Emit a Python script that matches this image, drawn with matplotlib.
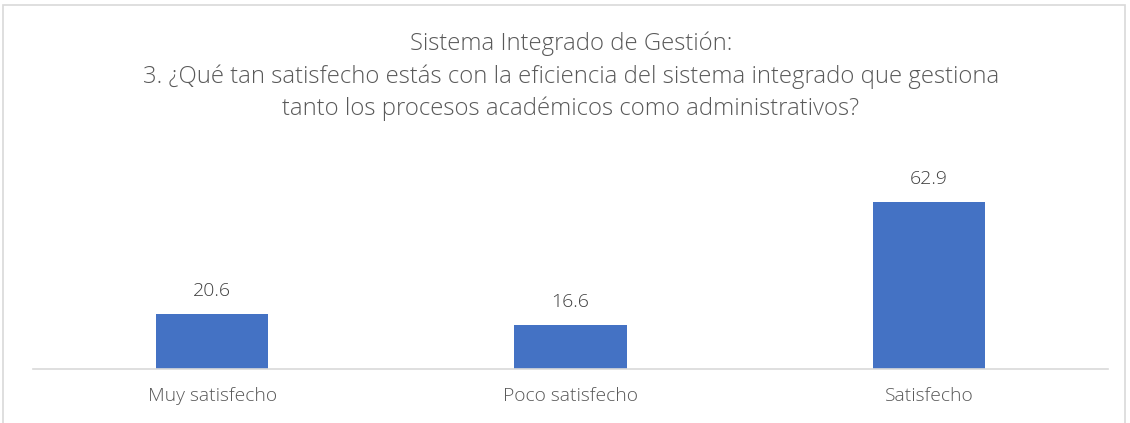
import matplotlib.pyplot as plt
from matplotlib.patches import Rectangle

categories = ["Muy satisfecho", "Poco satisfecho", "Satisfecho"]
values = [20.6, 16.6, 62.9]
value_labels = ["20.6", "16.6", "62.9"]
title_lines = [
    "Sistema Integrado de Gestión:",
    "3. ¿Qué tan satisfecho estás con la eficiencia del sistema integrado que gestiona",
    "tanto los procesos académicos como administrativos?",
]

W, H = 1130, 423
fig = plt.figure(figsize=(W / 100, H / 100), dpi=100)
plt.rcParams['font.family'] = ['Open Sans', 'DejaVu Sans']

# light chart border
fig.patches.append(Rectangle((3 / W, -0.05), (1125 - 3) / W, (H - 5) / H + 0.05,
                             transform=fig.transFigure, fill=False,
                             edgecolor="#d9d9d9", linewidth=1.2))

# axes: x 33..1108 px, baseline at y=369, 0..70 spans 2.64 px/unit
ax_left, ax_right = 33, 1108
base_y = 369
ymax = 70
px_per_unit = (369 - 202) / 62.9
top_y = base_y - ymax * px_per_unit
ax = fig.add_axes([ax_left / W, (H - base_y) / H,
                   (ax_right - ax_left) / W, (base_y - top_y) / H])

x = range(len(categories))
bars = ax.bar(x, values, width=0.313, color="#4472c4")
ax.set_xlim(-0.5, len(categories) - 0.5)
ax.set_ylim(0, ymax)

for b, lab in zip(bars, value_labels):
    ax.annotate(lab, (b.get_x() + b.get_width() / 2, b.get_height()),
                xytext=(0, 10), textcoords="offset points",
                ha="center", va="bottom", fontsize=14, color="#404040",
                fontweight="light")

ax.set_xticks(list(x))
ax.set_xticklabels(categories, fontsize=13.9, color="#595959", fontweight="light")
ax.tick_params(axis="x", length=0, pad=13)
ax.set_yticks([])
for s in ["top", "right", "left"]:
    ax.spines[s].set_visible(False)
ax.spines["bottom"].set_color("#d9d9d9")
ax.spines["bottom"].set_linewidth(1.2)

for i, line in enumerate(title_lines):
    fig.text(571 / W, 1 - (44 + i * 32.5) / H, line, ha="center", va="center",
             fontsize=17.2, color="#595959", fontweight="light")

fig.savefig("out.png", dpi=100)
